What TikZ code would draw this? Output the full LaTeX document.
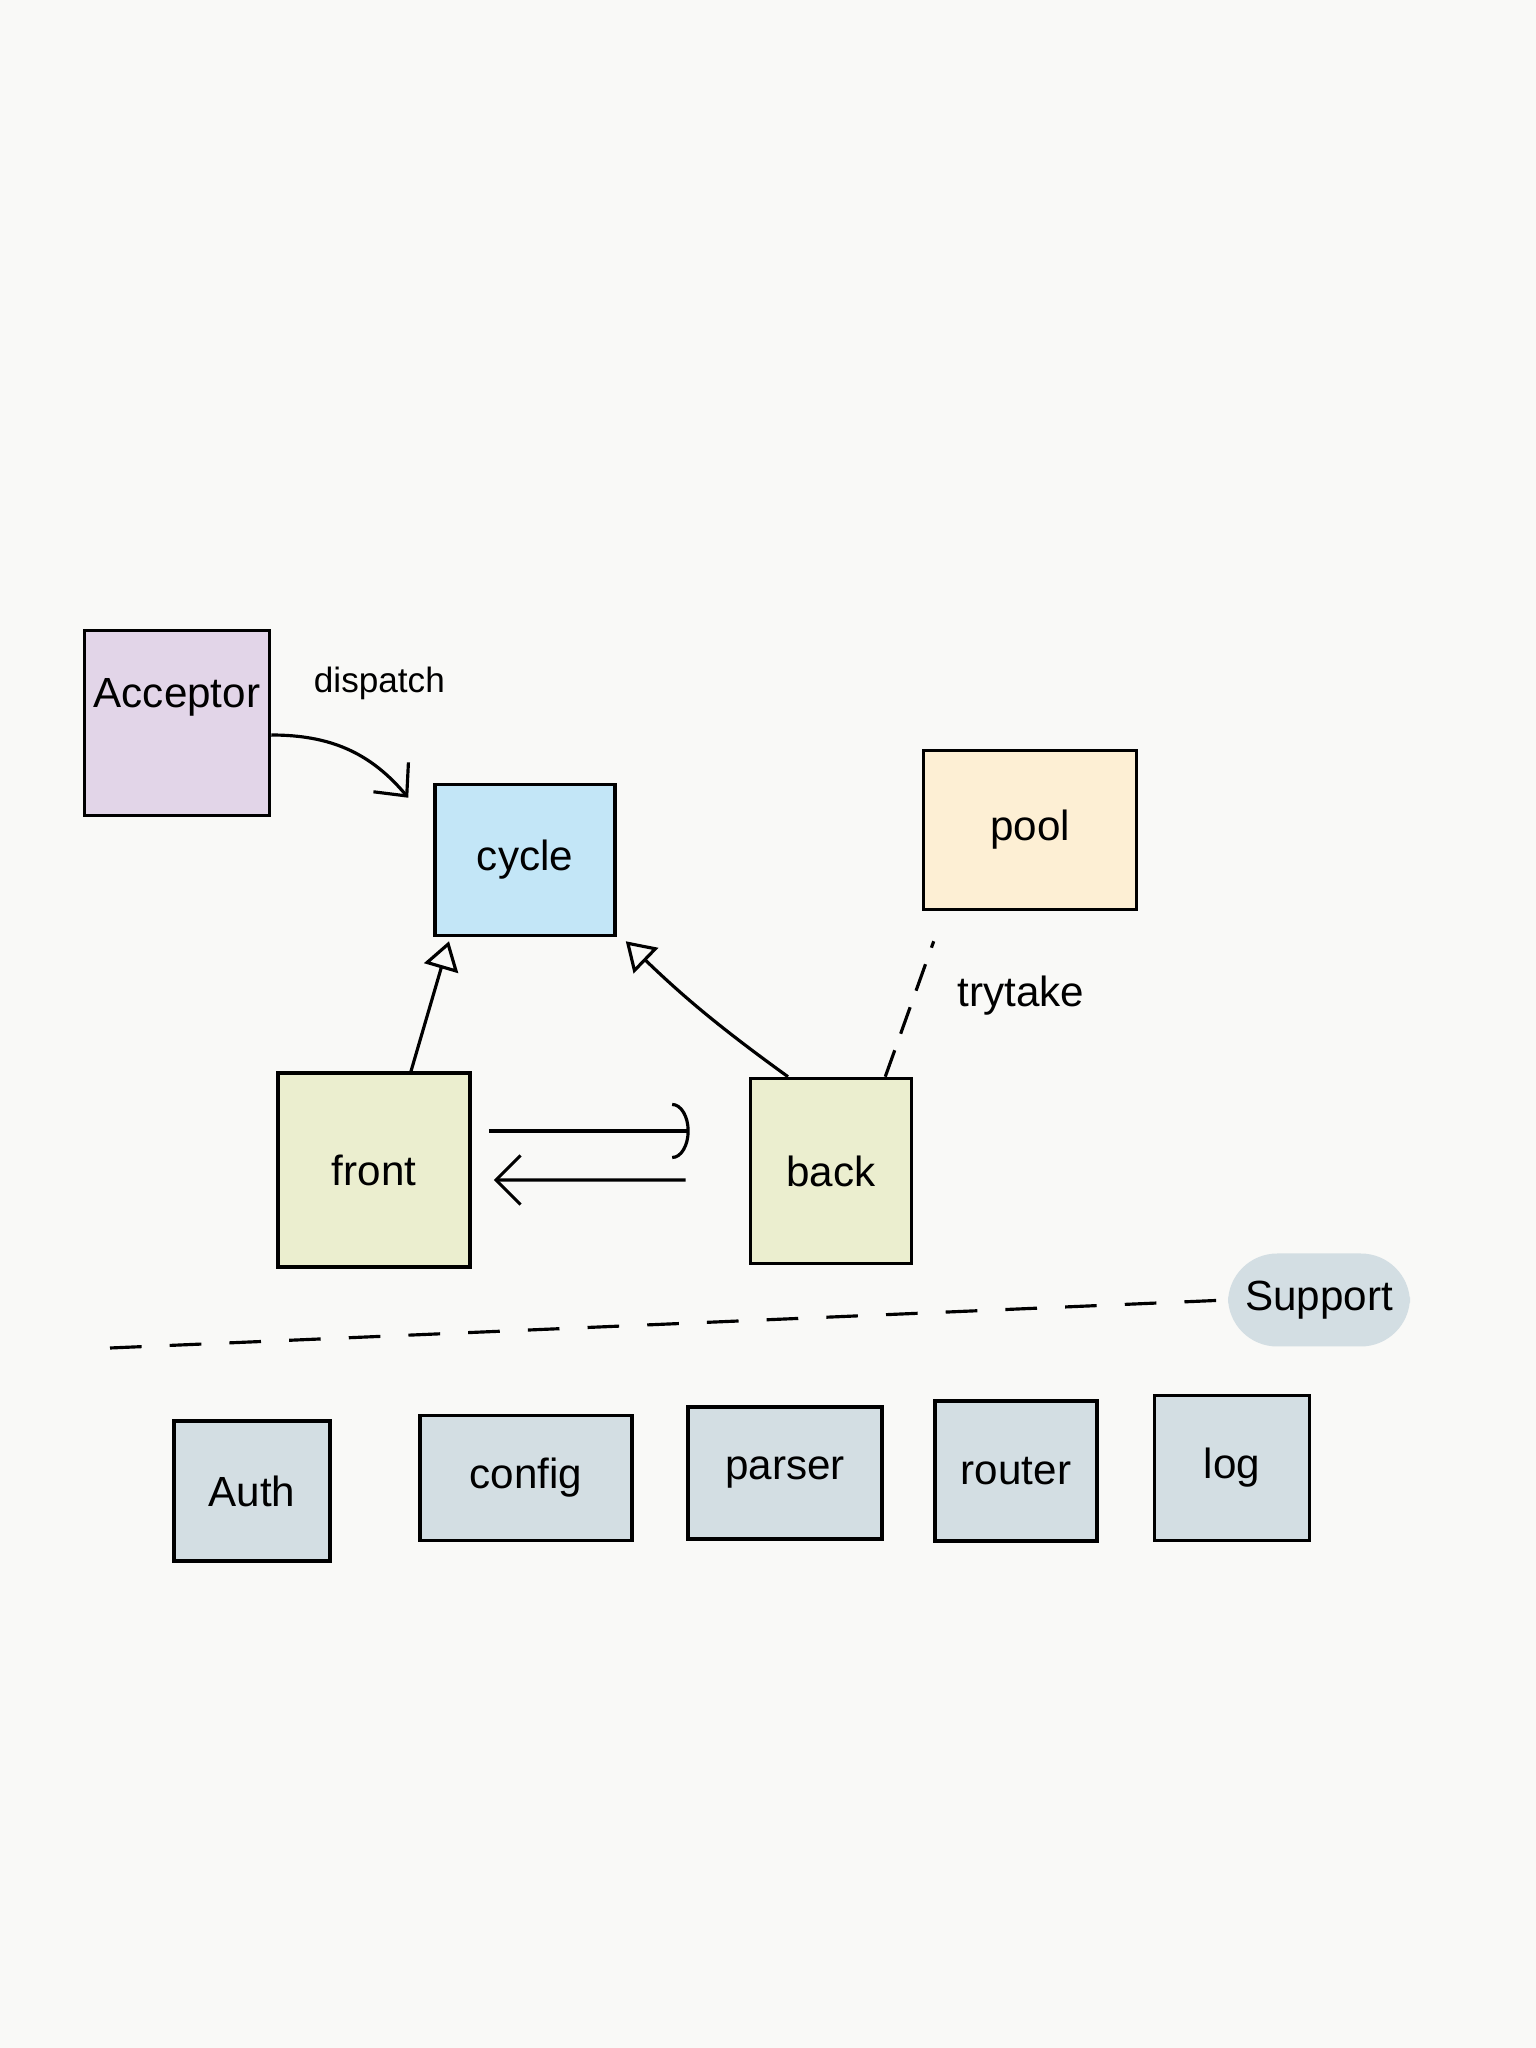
\documentclass[tikz,border=0pt]{standalone}
\usepackage{fontspec}
\setmainfont{Liberation Sans}
\usetikzlibrary{arrows.meta,positioning}
\definecolor{paper}{HTML}{F9F9F7}
\definecolor{acceptorfill}{HTML}{E2D5E8}
\definecolor{cyclefill}{HTML}{C3E6F7}
\definecolor{poolfill}{HTML}{FDEFD4}
\definecolor{workerfill}{HTML}{EBEECF}
\definecolor{supportfill}{HTML}{D3DEE3}

\begin{document}
\begin{tikzpicture}[
		box/.style={draw=black, line width=1pt, font=\large, inner sep=0pt},
		wire/.style={draw=black, line width=0.9pt},
		hint/.style={font=\large}
	]
		% Paper, boxes and wires:
		\fill[paper] (0, 0) rectangle (15.36, 20.48);
		\useasboundingbox (0, 0) rectangle (15.36, 20.48);
		\node[box, fill=acceptorfill, minimum width=1.85cm, minimum height=1.85cm, text depth=0.6cm] (acceptor) at (1.77, 13.25){Acceptor};
		\node[box, fill=cyclefill, minimum width=1.80cm, minimum height=1.51cm] (cycle) at (5.25, 11.88){cycle};
		\node[box, fill=poolfill, minimum width=2.13cm, minimum height=1.59cm] (pool) at (10.30, 12.18){pool};
		\node[box, fill=workerfill, minimum width=1.92cm, minimum height=1.94cm] (front) at (3.74, 8.78){front};
		\node[box, fill=workerfill, minimum width=1.61cm, minimum height=1.85cm] (back) at (8.31, 8.77){back};
		\node[fill=supportfill, rounded corners=14pt, minimum width=1.82cm, minimum height=0.93cm, font=\large] (support) at (13.19, 7.48){Support};
		\node[box, fill=supportfill, minimum width=1.56cm, minimum height=1.40cm] (auth) at (2.52, 5.57){Auth};
		\node[box, fill=supportfill, minimum width=2.12cm, minimum height=1.25cm] (config) at (5.26, 5.70){config};
		\node[box, fill=supportfill, minimum width=1.94cm, minimum height=1.32cm] (parser) at (7.85, 5.75){parser};
		\node[box, fill=supportfill, minimum width=1.62cm, minimum height=1.40cm] (router) at (10.16, 5.77){router};
		\node[box, fill=supportfill, minimum width=1.55cm, minimum height=1.45cm] (log) at (12.32, 5.80){log};
		\coordinate (rulestart) at (1.10, 7.00);
		\draw[wire, -{Straight Barb[length=7pt, width=13pt]}] ([yshift=-0.12cm]acceptor.east) to[out=0, in=130] node[hint, font=\normalsize, above right=0.36cm and -0.47cm]{dispatch} ([shift={(-0.25,-0.15)}]cycle.north west);
		\draw[wire, -{Triangle[open, length=8pt, width=10pt]}] ([xshift=0.37cm]front.north) -- ([xshift=-0.76cm, yshift=-0.04cm]cycle.south);
		\draw[wire, -{Triangle[open, length=8pt, width=10pt]}] ([xshift=-0.43cm]back.north) to[bend left=4] ([xshift=0.09cm, yshift=-0.04cm]cycle.south east);
		\draw[wire, dash pattern=on 8pt off 5pt] ([xshift=-0.28cm]back.north east) -- node[hint, pos=0.6, right=0.3cm]{trytake} ([shift={(0.12,-0.30)}]pool.south west);
		\draw[wire, -{Arc Barb[length=5pt, width=16pt]}, shorten <=0.17cm, shorten >=0.59cm] ([yshift=0.39cm]front.east) -- ([yshift=0.40cm]back.west);
		\draw[wire, -{Straight Barb[length=7pt, width=14pt]}, shorten <=0.63cm, shorten >=0.22cm] ([yshift=-0.09cm]back.west) -- ([yshift=-0.10cm]front.east);
		\draw[wire, dash pattern=on 9pt off 8pt] (rulestart) -- (support.west);
	\end{tikzpicture}
\end{document}
